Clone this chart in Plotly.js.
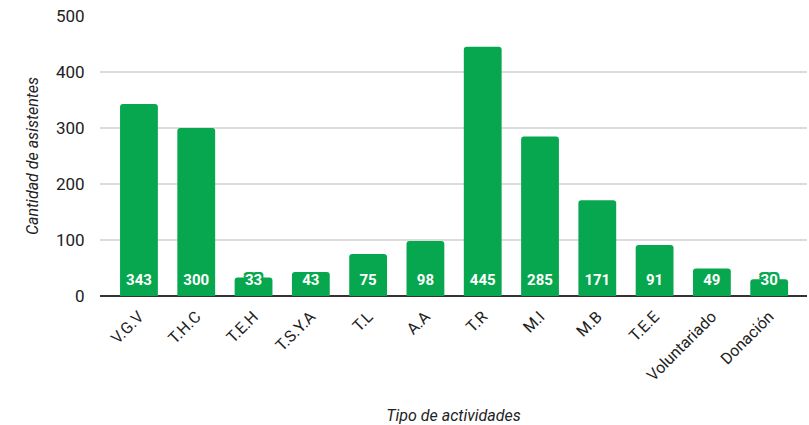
<!DOCTYPE html>
<html><head><meta charset="utf-8">
<script src="https://cdn.plot.ly/plotly-3.0.1.min.js"></script>
<style>html,body{margin:0;padding:0;background:#fff}#c{width:809px;height:425px}</style>
</head><body><div id="c"></div>
<script>
const categories = ["V.G.V","T.H.C","T.E.H","T.S.Y.A","T.L","A.A","T.R","M.I","M.B","T.E.E","Voluntariado","Donación"];
const asistentes = [343,300,33,43,75,98,445,285,171,91,49,30];
const yTicks = [0,100,200,300,400,500];

const GREEN = "#07a74f";
const LABEL_Y = 27;
const G = GREEN;

const bars = {
  type: "bar", x: categories, y: asistentes,
  marker: {color: GREEN, cornerradius: 3},
  width: 0.66, hoverinfo: "x+y"
};
const labels = {
  type: "scatter", mode: "text", x: categories, y: categories.map(() => LABEL_Y),
  text: asistentes.map(String),
  textposition: "middle center",
  textfont: {family: "Roboto, Arial, sans-serif", size: 15, color: "#ffffff", weight: 700,
             shadow: `2px 0 0 ${G}, -2px 0 0 ${G}, 0 2px 0 ${G}, 0 -2px 0 ${G}, 2px 2px 0 ${G}, -2px -2px 0 ${G}, 2px -2px 0 ${G}, -2px 2px 0 ${G}, 0 0 3px ${G}`},
  hoverinfo: "skip", cliponaxis: false
};

Plotly.newPlot("c", [bars, labels], {
  width: 809, height: 425,
  margin: {l: 100, r: 2, t: 16, b: 129},
  paper_bgcolor: "#fff", plot_bgcolor: "#fff",
  showlegend: false,
  font: {family: "Roboto, Arial, sans-serif", color: "#222"},
  xaxis: {
    type: "category", range: [-0.68, 11.66],
    tickangle: -45, tickfont: {size: 16, color: "#222"},
    showgrid: false, showline: false, ticks: "outside", ticklen: 4, tickcolor: "rgba(0,0,0,0)",
    automargin: false,
    title: {text: "Tipo de actividades", font: {size: 16, style: "italic", color: "#222"}, standoff: 32}
  },
  yaxis: {
    range: [0, 500], tickvals: yTicks, ticktext: yTicks.map(String),
    tickfont: {size: 17, color: "#222"},
    gridcolor: "#dcdcdc", gridwidth: 1.5,
    zeroline: true, zerolinecolor: "#333", zerolinewidth: 1.5,
    ticks: "outside", ticklen: 11, tickcolor: "rgba(0,0,0,0)",
    title: {text: "Cantidad de asistentes", font: {size: 16, style: "italic", color: "#222"}, standoff: 13}
  }
}, {displayModeBar: false, staticPlot: true});
</script></body></html>
